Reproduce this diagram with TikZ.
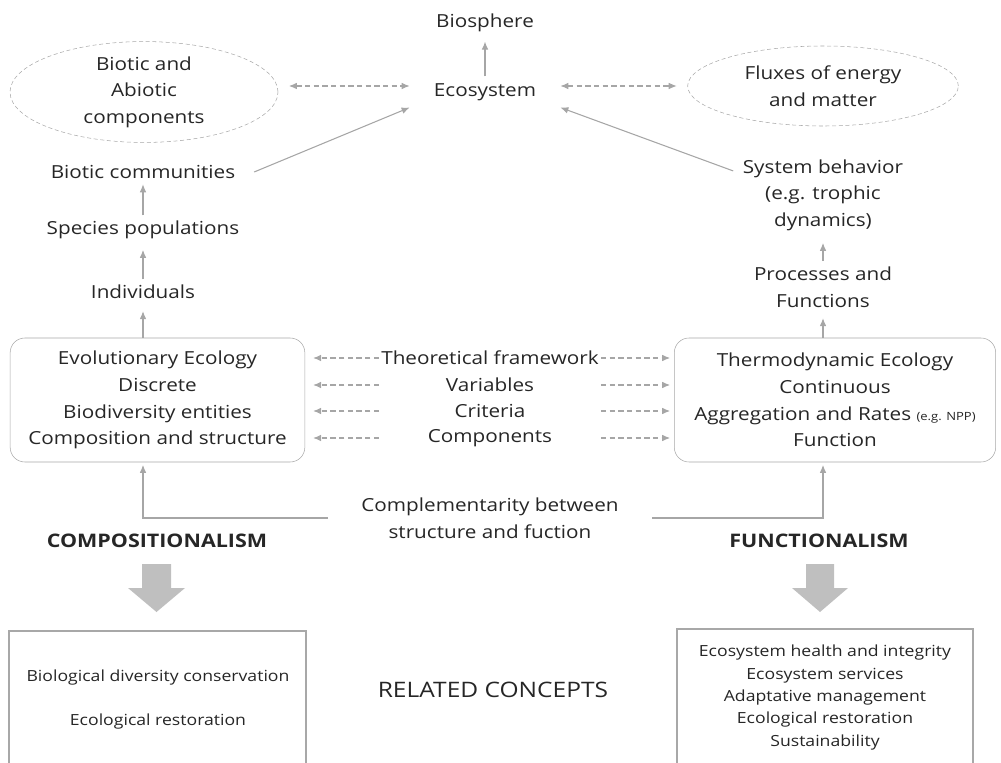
\documentclass[tikz,border=0pt]{standalone}
\usepackage{fontspec}
\setmainfont{Open Sans}[FakeStretch=1.15]
\usetikzlibrary{shapes,arrows.meta}
\definecolor{txtgray}{HTML}{262626}
\definecolor{linegray}{HTML}{A6A6A6}
\definecolor{boxgray}{HTML}{A8A8A8}
\definecolor{blockgray}{HTML}{BFBFBF}
\tikzstyle{term} = [text=txtgray, align=center, inner sep=2pt, font=\fontsize{13.5}{20}\selectfont]
\tikzstyle{midterm} = [term, minimum width=166pt, inner sep=0pt]
\tikzstyle{school} = [text=txtgray, font=\bfseries\fontsize{14}{16}\selectfont]
\tikzstyle{dashEllipse} = [ellipse, draw=boxgray, dashed, dash pattern=on 3pt off 2pt, term, inner sep=0pt]
\tikzstyle{concept} = [rectangle, rounded corners=11pt, draw=boxgray, minimum height=93pt, term]
\tikzstyle{listtext} = [text=txtgray, align=center, font=\fontsize{11.5}{16.7}\selectfont]
\tikzstyle{upArrow} = [draw=linegray, line width=0.8pt, -{Latex[length=6pt,width=5pt]}]
\tikzstyle{dashArrow} = [upArrow, dash pattern=on 4pt off 2.5pt]
\tikzstyle{dashDouble} = [dashArrow, {Latex[length=6pt,width=5pt]}-{Latex[length=6pt,width=5pt]}]

\begin{document}
\begin{tikzpicture}[x=0.75pt, y=-0.75pt]
		\useasboundingbox (0,0) rectangle (1001,763);
		%top part
		\node[term](biosph) at (485,23) {Biosphere};
		\node[term, inner xsep=18pt, inner ysep=5pt](ecosys) at (485,92) {Ecosystem};
		\node[dashEllipse, minimum width=201pt, minimum height=66pt](bioab) at (144,92) {Biotic and\\Abiotic\\components};
		\node[dashEllipse, minimum width=203pt, minimum height=60pt](flux) at (823,86) {Fluxes of energy\\and matter};
		%left chain
		\node[term, inner xsep=14pt, inner ysep=4pt](biocom) at (143,172) {Biotic communities};
		\node[term, inner ysep=4pt](spec) at (143,230) {Species populations};
		\node[term, inner ysep=4pt](indiv) at (143,292) {Individuals};
		%right chain
		\node[term, inner sep=7pt](sysb) at (823,195) {System behavior\\(e.g. trophic\\dynamics)};
		\node[term, inner ysep=4pt](proc) at (823,287) {Processes and\\Functions};
		%concept boxes
		\node[concept, minimum width=221pt](leftbox) at (157.5,400) {Evolutionary Ecology\\Discrete\\Biodiversity entities\\Composition and structure};
		\node[concept, minimum width=241pt](rightbox) at (835,400) {Thermodynamic Ecology\\Continuous\\Aggregation and Rates {\fontsize{8.5}{10}\selectfont(e.g. NPP)}\\Function};
		\node[midterm](theo) at (490,358) {Theoretical framework};
		\node[midterm](var) at (490,385) {Variables};
		\node[midterm](crit) at (490,411) {Criteria};
		\node[midterm](comp) at (490,438) {Components};
		%bottom part
		\node[term](compl) at (490,518) {Complementarity between\\structure and fuction};
		\coordinate (complL) at (328,518);
		\coordinate (complR) at (652,518);
		\node[school](compo) at (157,541) {COMPOSITIONALISM};
		\node[school](func) at (819,541) {FUNCTIONALISM};
		\node[text=txtgray, font=\fontsize{16}{18}\selectfont](related) at (493,690) {RELATED CONCEPTS};
		\node[listtext](leftlist) at (158,699.5) {Biological diversity conservation\\[17pt]Ecological restoration};
		\node[listtext](rightlist) at (825,697.5) {Ecosystem health and integrity\\Ecosystem services\\Adaptative management\\Ecological restoration\\Sustainability};
		\draw[boxgray, line width=0.8pt] (9,775) |- (306,631) -- (306,775);
		\draw[boxgray, line width=0.8pt] (677,775) |- (973,629) -- (973,775);
		\fill[blockgray] (142,564) -- (171,564) -- (171,588) -- (185,588) -- (156.5,612) -- (128,588) -- (142,588) -- cycle;
		\fill[blockgray] (806,564) -- (834,564) -- (834,588) -- (848,588) -- (820,612) -- (792,588) -- (806,588) -- cycle;

		%arrows
		\draw[upArrow, shorten >=5pt](ecosys)--(biosph);
		\draw[upArrow](biocom.east)--(ecosys.south west);
		\draw[upArrow](sysb.165)--(ecosys.south east);
		\draw[dashDouble, shorten <=8pt](bioab.east |- flux)--(ecosys.west |- flux);
		\draw[dashDouble, shorten >=8pt](ecosys.east |- flux)--(flux.west);
		\draw[upArrow](spec)--(biocom);
		\draw[upArrow, shorten >=4pt](indiv)--(spec);
		\draw[upArrow, shorten >=5pt](leftbox.north -| indiv)--(indiv);
		\draw[upArrow, shorten >=2pt](proc)--(sysb);
		\draw[upArrow, shorten >=4pt](rightbox.north -| proc)--(proc);
		\draw[dashArrow, shorten >=6pt](theo.west)--(leftbox.east |- theo);
		\draw[dashArrow, shorten >=3pt](theo.east)--(rightbox.west |- theo);
		\draw[dashArrow, shorten >=6pt](var.west)--(leftbox.east |- var);
		\draw[dashArrow, shorten >=3pt](var.east)--(rightbox.west |- var);
		\draw[dashArrow, shorten >=6pt](crit.west)--(leftbox.east |- crit);
		\draw[dashArrow, shorten >=3pt](crit.east)--(rightbox.west |- crit);
		\draw[dashArrow, shorten >=6pt](comp.west)--(leftbox.east |- comp);
		\draw[dashArrow, shorten >=3pt](comp.east)--(rightbox.west |- comp);
		\draw[upArrow, shorten >=2pt](complL) -| (leftbox.south -| indiv);
		\draw[upArrow, shorten >=2pt](complR) -| (rightbox.south -| proc);
	\end{tikzpicture}
\end{document}
